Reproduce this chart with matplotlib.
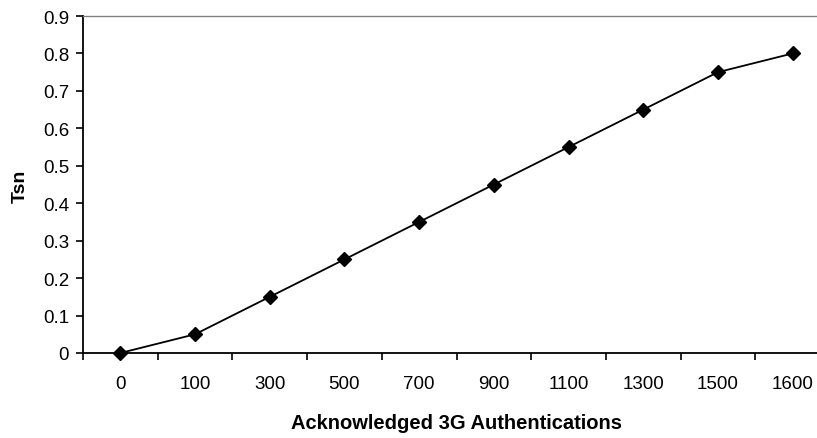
import matplotlib
matplotlib.use("Agg")
import matplotlib.pyplot as plt
import numpy as np

categories = ["0", "100", "300", "500", "700", "900", "1100", "1300", "1500", "1600"]
tsn = [0.0, 0.05, 0.15, 0.25, 0.35, 0.45, 0.55, 0.65, 0.75, 0.80]
yticks = [0, 0.1, 0.2, 0.3, 0.4, 0.5, 0.6, 0.7, 0.8, 0.9]
ytick_labels = ["0", "0.1", "0.2", "0.3", "0.4", "0.5", "0.6", "0.7", "0.8", "0.9"]

plt.rcParams['font.family'] = ['Liberation Sans', 'DejaVu Sans']

fig = plt.figure(figsize=(8.17, 4.39), dpi=100)
ax = fig.add_axes([83/817, 85/439, 747/817, 337/439])

x = np.arange(len(categories))
ax.plot(x, tsn, color='black', linewidth=1.3, marker='D', markersize=7,
        markerfacecolor='black', markeredgecolor='black', clip_on=False, zorder=3)

ax.set_xlim(-0.5, len(categories) - 0.5)
ax.set_ylim(0, 0.9)
ax.set_yticks(yticks)
ax.set_yticklabels(ytick_labels)
ax.set_xticks(x)
ax.set_xticklabels(categories)
ax.set_xticks(np.arange(len(categories) + 1) - 0.5, minor=True)
ax.tick_params(axis='x', which='major', length=0, pad=16, labelsize=13.5)
ax.tick_params(axis='x', which='minor', length=5, width=1.2, direction='out', color='black')
ax.tick_params(axis='y', which='major', length=5, width=1.2, direction='out', labelsize=13.5, pad=5)

for s in ['left', 'bottom']:
    ax.spines[s].set_color('black')
    ax.spines[s].set_linewidth(1.3)
for s in ['top', 'right']:
    ax.spines[s].set_color('#808080')
    ax.spines[s].set_linewidth(1.0)

ax.set_xlabel("Acknowledged 3G Authentications", fontsize=14.5, fontweight='bold')
ax.xaxis.set_label_coords(0.5, -(414 - 354) / 337)
fig.text(20/817, 1 - 186/439, "Tsn", rotation=90, ha='center', va='center',
         fontsize=14, fontweight='bold')

fig.savefig("out.png", dpi=100)
